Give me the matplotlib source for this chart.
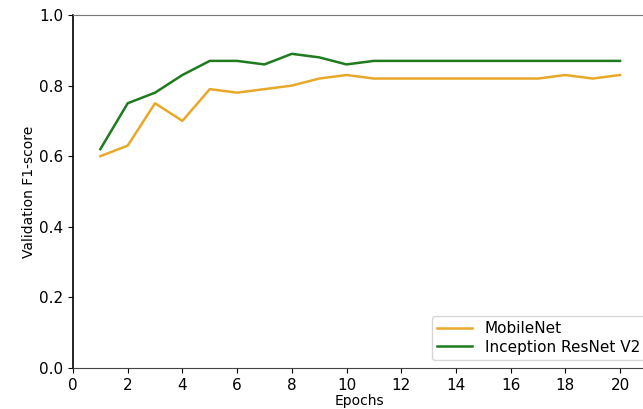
import matplotlib
matplotlib.use("Agg")
import matplotlib.pyplot as plt

epochs = list(range(1, 21))
mobilenet = [0.60, 0.63, 0.75, 0.70, 0.79, 0.78, 0.79, 0.80, 0.82, 0.83,
             0.82, 0.82, 0.82, 0.82, 0.82, 0.82, 0.82, 0.83, 0.82, 0.83]
inception = [0.62, 0.75, 0.78, 0.83, 0.87, 0.87, 0.86, 0.89, 0.88, 0.86,
             0.87, 0.87, 0.87, 0.87, 0.87, 0.87, 0.87, 0.87, 0.87, 0.87]


def main() -> None:
    fig = plt.figure(figsize=(6.43, 4.09), dpi=100)
    # right edge of the axes sits just outside the picture, as in the cropped original
    ax = fig.add_axes([73 / 643, 41 / 409, 573 / 643, 353 / 409])

    ax.plot(epochs, mobilenet, color="#e8a92a", lw=1.8, label="MobileNet")
    ax.plot(epochs, inception, color="#1e7b1e", lw=1.8, label="Inception ResNet V2")

    ax.set_xlim(0, 20.95)
    ax.set_ylim(0, 1.0)
    ax.set_xticks(range(0, 21, 2))
    ax.set_yticks([0.0, 0.2, 0.4, 0.6, 0.8, 1.0])
    ax.tick_params(labelsize=11)
    ax.set_xlabel("Epochs", fontsize=10, labelpad=1)
    ax.set_ylabel("Validation F1-score", fontsize=10, labelpad=2)

    ax.spines["top"].set_color("#777777")
    ax.spines["bottom"].set_color("#444444")
    ax.spines["left"].set_linewidth(1.2)
    ax.legend(loc="lower right", bbox_to_anchor=(1.0, 0.02), borderaxespad=0.05,
              fontsize=11, handlelength=2.3, labelspacing=0.25, borderpad=0.35)

    fig.savefig("out.png", dpi=100)


if __name__ == "__main__":
    main()
